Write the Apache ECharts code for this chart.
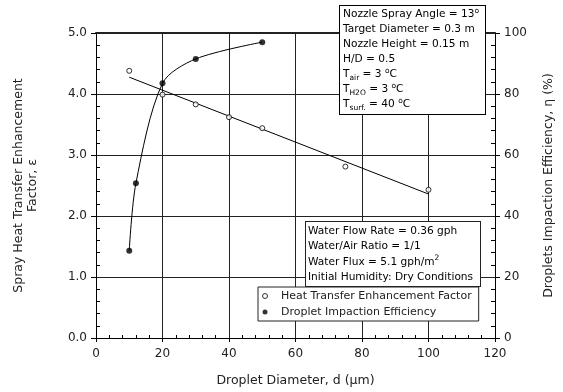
<!DOCTYPE html>
<html>
<head>
<meta charset="utf-8">
<script src="https://cdn.jsdelivr.net/npm/echarts@6/dist/echarts.min.js"></script>
<style>
  html, body { margin: 0; padding: 0; background: #fff; }
  #chart { width: 563px; height: 392px; }
</style>
</head>
<body>
<div id="chart"></div>
<script>
// Heat transfer enhancement factor vs droplet diameter (left axis)
const diameters = [10, 20, 30, 40, 50, 75, 100];
const enhancement = [4.38, 3.99, 3.83, 3.62, 3.44, 2.81, 2.43];

// Droplet impaction efficiency vs droplet diameter (right axis, %)
const impactDiameters = [10, 12, 20, 30, 50];
const impactEfficiency = [28.6, 50.7, 83.5, 91.5, 97];

// Axis tick labels
const xTicks = [0, 20, 40, 60, 80, 100, 120];
const leftTicks = [0, 1, 2, 3, 4, 5];
const rightTicks = [0, 20, 40, 60, 80, 100];

const FONT = 'DejaVu Sans';

// Least-squares straight line through the enhancement points
function linearFit(xs, ys) {
  const n = xs.length;
  const mx = xs.reduce((a, b) => a + b, 0) / n;
  const my = ys.reduce((a, b) => a + b, 0) / n;
  let sxy = 0, sxx = 0;
  for (let i = 0; i < n; i++) {
    sxy += (xs[i] - mx) * (ys[i] - my);
    sxx += (xs[i] - mx) * (xs[i] - mx);
  }
  const slope = sxy / sxx;
  const icpt = my - slope * mx;
  const x0 = Math.min(...xs), x1 = Math.max(...xs);
  return [[x0, icpt + slope * x0], [x1, icpt + slope * x1]];
}

const pairs = (xs, ys) => xs.map((x, i) => [x, ys[i]]);

const chart = echarts.init(document.getElementById('chart'), null, { renderer: 'canvas' });

const axisText = { color: '#222', fontFamily: FONT, fontSize: 12 };
const titleText = { color: '#222', fontFamily: FONT, fontSize: 12.5 };

const supRich = {
  sup: { fontSize: 7.5, lineHeight: 8, verticalAlign: 'top', fontFamily: FONT, fill: '#000' },
  sub: { fontSize: 7.5, lineHeight: 8, verticalAlign: 'bottom', fontFamily: FONT, fill: '#000' }
};

const option = {
  animation: false,
  backgroundColor: '#fff',
  grid: { left: 96, right: 67, top: 33, bottom: 54, containLabel: false },
  xAxis: [{
    type: 'value', min: xTicks[0], max: xTicks[xTicks.length - 1], interval: 20,
    name: 'Droplet Diameter, d (\u03bcm)', nameLocation: 'middle', nameGap: 36,
    nameTextStyle: titleText,
    axisLine: { show: true, onZero: false, lineStyle: { color: '#000', width: 1 } },
    axisTick: { show: true, inside: false, length: 4, lineStyle: { color: '#000' } },
    minorTick: { show: true, splitNumber: 5, length: -3, lineStyle: { color: '#000' } },
    axisLabel: Object.assign({ margin: 10 }, axisText),
    splitLine: { show: true, lineStyle: { color: '#222', width: 1 } }
  }, {
    type: 'value', position: 'top', min: 0, max: 120,
    axisLine: { show: true, onZero: false, lineStyle: { color: '#222', width: 2 } },
    axisTick: { show: false }, axisLabel: { show: false }, splitLine: { show: false }
  }],
  yAxis: [{
    type: 'value', position: 'left', min: leftTicks[0], max: leftTicks[leftTicks.length - 1], interval: 1,
    name: 'Spray Heat Transfer Enhancement\nFactor, \u03b5', nameLocation: 'middle', nameGap: 56, nameRotate: 90,
    nameTextStyle: Object.assign({ lineHeight: 14, align: 'center' }, titleText),
    axisLine: { show: true, onZero: false, lineStyle: { color: '#000', width: 1 } },
    axisTick: { show: true, inside: false, length: 5, lineStyle: { color: '#000' } },
    minorTick: { show: true, splitNumber: 5, length: -4, lineStyle: { color: '#000' } },
    axisLabel: Object.assign({ margin: 9, formatter: v => v.toFixed(1) }, axisText),
    splitLine: { show: true, lineStyle: { color: '#222', width: 1 } }
  }, {
    type: 'value', position: 'right', min: rightTicks[0], max: rightTicks[rightTicks.length - 1], interval: 20,
    name: 'Droplets Impaction Efficiency, \u03b7 (%)', nameLocation: 'middle', nameGap: 47, nameRotate: 90,
    nameTextStyle: titleText,
    axisLine: { show: true, onZero: false, lineStyle: { color: '#000', width: 1 } },
    axisTick: { show: true, inside: false, length: 5, lineStyle: { color: '#000' } },
    minorTick: { show: true, splitNumber: 5, length: -4, lineStyle: { color: '#000' } },
    axisLabel: Object.assign({ margin: 9 }, axisText),
    splitLine: { show: false }
  }],
  legend: {
    orient: 'vertical', left: 258, top: 287,
    backgroundColor: '#fff', borderColor: '#222', borderWidth: 1,
    padding: [3, 7, 3, 4], itemGap: 4, itemWidth: 22, itemHeight: 5,
    textStyle: { color: '#222', fontFamily: FONT, fontSize: 11, lineHeight: 12 },
    data: [
      { name: 'Heat Transfer Enhancement Factor', icon: 'circle',
        itemStyle: { color: '#fff', borderColor: '#000', borderWidth: 1 } },
      { name: 'Droplet Impaction Efficiency', icon: 'circle',
        itemStyle: { color: '#000', borderWidth: 0 } }
    ]
  },
  series: [
    {
      name: 'Enhancement fit', type: 'line', xAxisIndex: 0, yAxisIndex: 0,
      data: linearFit(diameters, enhancement), showSymbol: false, silent: true,
      lineStyle: { color: '#000', width: 1 }, z: 2
    },
    {
      name: 'Impaction curve', type: 'line', xAxisIndex: 0, yAxisIndex: 1,
      data: pairs(impactDiameters, impactEfficiency), showSymbol: false, silent: true,
      smooth: 0.3,
      lineStyle: { color: '#000', width: 1 }, z: 2
    },
    {
      name: 'Heat Transfer Enhancement Factor', type: 'scatter', xAxisIndex: 0, yAxisIndex: 0,
      data: pairs(diameters, enhancement), symbol: 'circle', symbolSize: 5,
      itemStyle: { color: '#fff', borderColor: '#000', borderWidth: 1 }, z: 3
    },
    {
      name: 'Droplet Impaction Efficiency', type: 'scatter', xAxisIndex: 0, yAxisIndex: 1,
      data: pairs(impactDiameters, impactEfficiency), symbol: 'circle', symbolSize: 6,
      itemStyle: { color: '#000' }, z: 3
    }
  ],
  graphic: [
    {
      type: 'text', left: 339, top: 5, z: 10,
      style: {
        text: [
          'Nozzle Spray Angle = 13{sup|o}',
          'Target Diameter = 0.3 m',
          'Nozzle Height = 0.15 m',
          'H/D = 0.5',
          'T{sub|air} = 3 {sup|o}C',
          'T{sub|H2O} = 3 {sup|o}C',
          'T{sub|surf.} = 40 {sup|o}C'
        ].join('\n'),
        fontFamily: FONT, fontSize: 10.6, lineHeight: 15, fill: '#000',
        backgroundColor: '#fff', borderColor: '#000', borderWidth: 1,
        padding: [1, 4, 2, 3], width: 138,
        rich: supRich
      }
    },
    {
      type: 'text', left: 305, top: 221, z: 10,
      style: {
        text: [
          'Water Flow Rate = 0.36 gph',
          'Water/Air Ratio = 1/1',
          'Water Flux = 5.1 gph/m{sup|2}',
          'Initial Humidity: Dry Conditions'
        ].join('\n'),
        fontFamily: FONT, fontSize: 10.6, lineHeight: 15.5, fill: '#000',
        backgroundColor: '#fff', borderColor: '#222', borderWidth: 1,
        padding: [1, 4, 1, 2], width: 168,
        rich: supRich
      }
    }
  ]
};

chart.setOption(option);
</script>
</body>
</html>
